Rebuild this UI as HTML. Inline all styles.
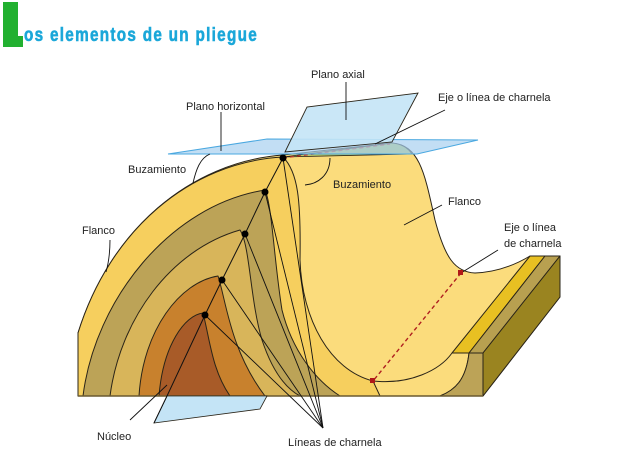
<!DOCTYPE html>
<html><head><meta charset="utf-8"><style>
html,body{margin:0;padding:0;background:#fff;width:637px;height:475px;overflow:hidden}
svg{display:block}
text{font-family:"Liberation Sans",sans-serif;font-size:11px;fill:#222}
</style></head><body>
<svg width="637" height="475" viewBox="0 0 637 475" xmlns="http://www.w3.org/2000/svg">
<rect x="3" y="2" width="15" height="45" fill="#22b030"/>
<rect x="3" y="36" width="20" height="11" fill="#22b030"/>
<text x="24" y="41" style="font-size:19px;font-weight:bold;fill:#1aa7d9;stroke:#1aa7d9;stroke-width:0.6;letter-spacing:1.6px" textLength="234" lengthAdjust="spacingAndGlyphs">os elementos de un pliegue</text>

<g stroke="#2a2418" stroke-width="1" stroke-linejoin="round">
<path d="M78,396 L78,333 C110,230 190,162 283,155 L392,143 C420,145 425,175 435,220 C445,258 455,272 475,273 C500,272 520,262 530,256 L560,256 L560,297 L483,396 Z" fill="#fbdc7c"/>
<path d="M530,256 L545,256 L469,353 L452,353 Z" fill="#e8c022"/>
<path d="M545,256 L560,256 L483,353 L469,353 Z" fill="#b8a050"/>
<path d="M560,256 L560,297 L483,396 L483,353 Z" fill="#9a8420"/>
<path d="M373,381 C410,385 440,370 452,353 L469,353 C466,380 455,390 440,396 L373,396 Z" fill="#fbdc7c"/>
<path d="M469,353 L483,353 L483,396 L440,396 C455,390 466,380 469,353 Z" fill="#bca357"/>
<path d="M78,396 L78,333 C110,230 190,162 283,157 C298,172 301,200 300,260 C302,320 330,370 373,381 L380,396 Z" fill="#f6cf5e"/>
<path d="M83,396 C95,300 170,205 265,190 C272,205 274,260 282,310 C292,350 315,380 340,396 Z" fill="#bca357"/>
<path d="M110,396 C120,320 170,250 240,230 C250,245 250,300 262,340 C272,370 285,388 300,396 Z" fill="#d8b55a"/>
<path d="M139,396 C143,330 180,282 218,276 C226,300 230,350 265,396 Z" fill="#c8812d"/>
<path d="M159,396 C163,345 185,315 203,313 C210,340 212,370 230,396 Z" fill="#a85b28"/>
</g>
<path d="M283,157 L392,143 C402,144 408,148 412,154 Z" fill="#b8c86a" stroke="#2a2418" stroke-width="0.8"/>
<line x1="283" y1="158" x2="390" y2="144" stroke="#c0302a" stroke-width="1.2" stroke-dasharray="4,3"/>
<line x1="78" y1="396" x2="483" y2="396" stroke="#6a5a30" stroke-width="1.5"/>
<path d="M167,396 L154,423 L260,409 L267,396 Z" fill="#c4e4f6" stroke="#2a2418" stroke-width="0.8"/>
<path d="M168,154 L267,139 L478,140 L417,154 Z" fill="#a8d0f0" fill-opacity="0.7" stroke="#4aa8e0" stroke-width="1"/>
<path d="M285,152 L307,107 L418,93 L392,142 Z" fill="#c4e4f6" fill-opacity="0.9" stroke="#2a2418" stroke-width="0.9"/>
<polyline points="283,158 265,192 245,234 222,280 205,315 167,396 154,423" fill="none" stroke="#111" stroke-width="1"/>
<g stroke="#111" stroke-width="0.9" fill="none">
<line x1="283" y1="158" x2="323" y2="428"/>
<line x1="265" y1="192" x2="323" y2="428"/>
<line x1="245" y1="234" x2="323" y2="428"/>
<line x1="222" y1="280" x2="323" y2="428"/>
<line x1="205" y1="315" x2="323" y2="428"/>
<line x1="130" y1="420" x2="167" y2="385"/>
<path d="M110,240 C110,255 108,265 106,272"/>
<path d="M210,154 C200,158 196,170 193,183"/>
<line x1="221" y1="112" x2="221" y2="151"/>
<line x1="346" y1="82" x2="346" y2="120"/>
<line x1="445" y1="110" x2="375" y2="144"/>
<path d="M330,158 C330,175 318,184 305,185"/>
<line x1="442" y1="205" x2="404" y2="225"/>
<line x1="498" y1="250" x2="461" y2="273"/>
</g>
<line x1="461" y1="273" x2="373" y2="381" stroke="#b02020" stroke-width="1.4" stroke-dasharray="4,3"/>
<rect x="458" y="270" width="5" height="5" fill="#b01818"/>
<rect x="370" y="378" width="5" height="5" fill="#b01818"/>
<g fill="#000">
<circle cx="283" cy="158" r="3.5"/><circle cx="265" cy="192" r="3.5"/><circle cx="245" cy="234" r="3.5"/><circle cx="222" cy="280" r="3.5"/><circle cx="205" cy="315" r="3.5"/>
</g>
<text x="186" y="110">Plano horizontal</text>
<text x="311" y="78">Plano axial</text>
<text x="438" y="101">Eje o línea de charnela</text>
<text x="128" y="173">Buzamiento</text>
<text x="333" y="188">Buzamiento</text>
<text x="82" y="234">Flanco</text>
<text x="448" y="205">Flanco</text>
<text x="504" y="231">Eje o línea</text>
<text x="504" y="247">de charnela</text>
<text x="97" y="440">Núcleo</text>
<text x="288" y="446">Líneas de charnela</text>
</svg>
</body></html>
